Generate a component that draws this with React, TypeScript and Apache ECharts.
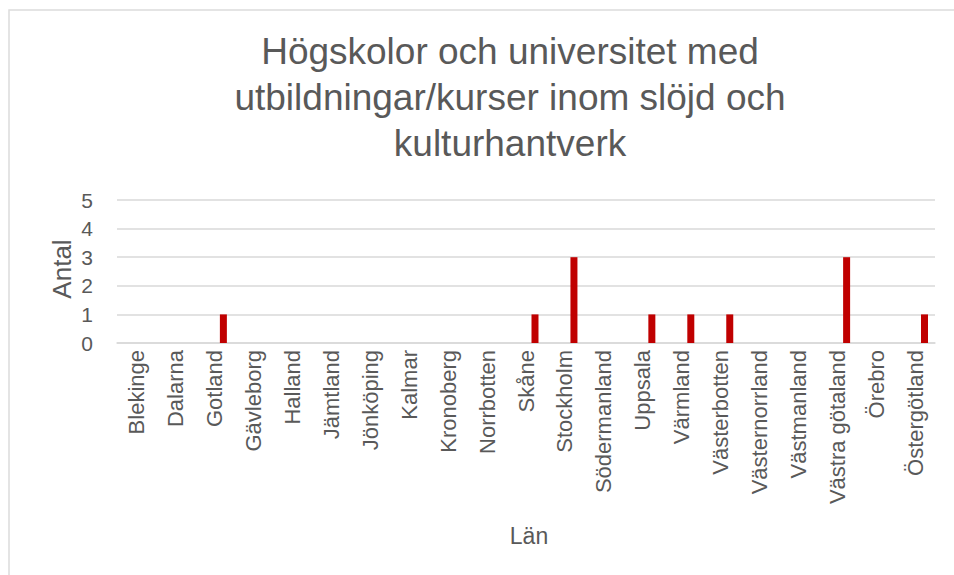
import React, { useEffect, useRef } from "react";
import * as echarts from "echarts";

const categories: string[] = [
  "Blekinge",
  "Dalarna",
  "Gotland",
  "Gävleborg",
  "Halland",
  "Jämtland",
  "Jönköping",
  "Kalmar",
  "Kronoberg",
  "Norrbotten",
  "Skåne",
  "Stockholm",
  "Södermanland",
  "Uppsala",
  "Värmland",
  "Västerbotten",
  "Västernorrland",
  "Västmanland",
  "Västra götaland",
  "Örebro",
  "Östergötland",
];

const values: number[] = [0, 0, 1, 0, 0, 0, 0, 0, 0, 0, 1, 3, 0, 1, 1, 1, 0, 0, 3, 0, 1];

const emptySeries: (number | null)[] = categories.map(() => null);

const titleText = "Högskolor och universitet med\nutbildningar/kurser inom slöjd och\nkulturhantverk";
const yAxisTitle = "Antal";
const xAxisTitle = "Län";

const FONT = "'Liberation Sans', Arial, Helvetica, sans-serif";
const TEXT_COLOR = "#595959";

export default function App() {
  const ref = useRef<HTMLDivElement>(null);

  useEffect(() => {
    if (!ref.current) return;
    const chart = echarts.init(ref.current, undefined, { renderer: "svg" });
    chart.setOption({
      animation: false,
      backgroundColor: "#ffffff",
      grid: {
        left: 117,
        right: 19,
        top: 200,
        bottom: 232,
        containLabel: false,
      },
      xAxis: {
        type: "category",
        data: categories,
        axisLine: { show: true, lineStyle: { color: "#d9d9d9", width: 1.5 } },
        axisTick: { show: false },
        axisLabel: {
          interval: 0,
          rotate: 90,
          margin: 7,
          fontSize: 22,
          fontFamily: FONT,
          color: TEXT_COLOR,
        },
      },
      yAxis: {
        type: "value",
        min: 0,
        max: 5,
        interval: 1,
        axisLine: { show: false },
        axisTick: { show: false },
        splitLine: { show: true, lineStyle: { color: "#d9d9d9", width: 1.5 } },
        axisLabel: {
          margin: 24,
          fontSize: 21,
          fontFamily: FONT,
          color: TEXT_COLOR,
        },
      },
      series: [
        {
          type: "bar",
          name: "empty",
          data: emptySeries,
          barWidth: 7,
          barGap: "157%",
          itemStyle: { color: "#4472c4" },
        },
        {
          type: "bar",
          name: "Antal",
          data: values,
          barWidth: 7,
          barGap: "157%",
          itemStyle: { color: "#c00000" },
        },
      ],
      graphic: [
        {
          type: "rect",
          silent: true,
          shape: { x: 9, y: 10, width: 960, height: 600 },
          style: { fill: "none", stroke: "#dcdcdc", lineWidth: 1.5 },
        },
        {
          type: "text",
          x: 510,
          y: 28,
          style: {
            text: titleText,
            font: `37px ${FONT}`,
            fill: TEXT_COLOR,
            textAlign: "center",
            textVerticalAlign: "top",
            lineHeight: 46,
          },
        },
        {
          type: "text",
          x: 62,
          y: 269,
          rotation: Math.PI / 2,
          style: {
            text: yAxisTitle,
            font: `26px ${FONT}`,
            fill: TEXT_COLOR,
            textAlign: "center",
            textVerticalAlign: "middle",
          },
        },
        {
          type: "text",
          x: 529,
          y: 536,
          style: {
            text: xAxisTitle,
            font: `23px ${FONT}`,
            fill: TEXT_COLOR,
            textAlign: "center",
            textVerticalAlign: "middle",
          },
        },
      ],
    });
    return () => {
      chart.dispose();
    };
  }, []);

  return (
    <div
      ref={ref}
      style={{ position: "absolute", left: 0, top: 0, width: 954, height: 575 }}
    />
  );
}
